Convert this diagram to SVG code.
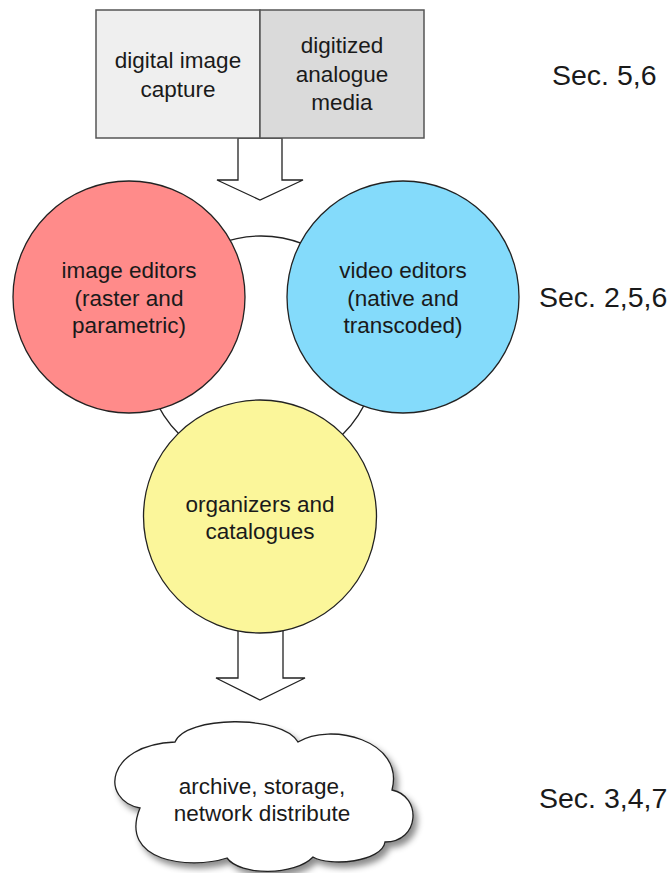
<svg xmlns="http://www.w3.org/2000/svg" width="671" height="873" viewBox="0 0 671 873">
  <style>
    text { font-family: "Liberation Sans", Arial, Helvetica, sans-serif; fill: #1a1a1a; text-anchor: middle; }
    .body { font-size: 22.5px; }
    .sec { font-size: 28.5px; text-anchor: start; }
    .box { stroke: #555; stroke-width: 1.5; }
    .circ { stroke: #222; stroke-width: 1.3; }
    .arrow { fill: #fff; stroke: #222; stroke-width: 1.3; stroke-linejoin: miter; }
    .ring { fill: none; stroke: #222; stroke-width: 1.3; }
  </style>
  <defs>
    <filter id="shadow" x="-10%" y="-10%" width="125%" height="130%">
      <feDropShadow dx="4" dy="5" stdDeviation="3" flood-color="#000" flood-opacity="0.45"/>
    </filter>
  </defs>
  <rect width="671" height="873" fill="#fff"/>

  <!-- connectors: the shared ring behind the editors, and the block arrows -->
  <g id="connectors">
    <circle class="ring" cx="261" cy="352" r="116"/>
    <polygon class="arrow" points="238,138 282,138 282,180 303,180 260,200 217,180 238,180"/>
    <polygon class="arrow" points="238,620 283,620 283,678 305,678 260,700 216,678 238,678"/>
  </g>

  <!-- sources -->
  <g id="capture">
    <rect class="box" x="96" y="10" width="164" height="128" fill="#efefef"/>
    <text class="body" x="178" y="68">digital image</text>
    <text class="body" x="178" y="97">capture</text>
  </g>
  <g id="analogue">
    <rect class="box" x="260" y="10" width="164" height="128" fill="#dadada"/>
    <text class="body" x="342" y="53">digitized</text>
    <text class="body" x="342" y="82">analogue</text>
    <text class="body" x="342" y="110">media</text>
  </g>

  <!-- editors -->
  <g id="image-editors">
    <circle class="circ" cx="129" cy="297" r="116" fill="#ff8b8a"/>
    <text class="body" x="129" y="278">image editors</text>
    <text class="body" x="129" y="306">(raster and</text>
    <text class="body" x="129" y="333">parametric)</text>
  </g>
  <g id="video-editors">
    <circle class="circ" cx="403" cy="297" r="116" fill="#84dbfb"/>
    <text class="body" x="403" y="278">video editors</text>
    <text class="body" x="403" y="306">(native and</text>
    <text class="body" x="403" y="333">transcoded)</text>
  </g>
  <g id="organizers">
    <circle class="circ" cx="260" cy="516.5" r="116.5" fill="#fbf69a"/>
    <text class="body" x="260" y="512">organizers and</text>
    <text class="body" x="260" y="539">catalogues</text>
  </g>

  <!-- output -->
  <g id="archive">
    <path class="circ" fill="#fff" filter="url(#shadow)"
      d="M 140,808
         C 100,800 105,745 175,742
         C 185,716 282,714 298,742
         C 330,722 405,740 392,790
         C 422,796 420,842 385,842
         C 382,862 330,867 313,857
         C 295,876 240,876 227,858
         C 190,870 118,862 140,808 Z"/>
    <text class="body" x="262" y="794">archive, storage,</text>
    <text class="body" x="262" y="821">network distribute</text>
  </g>

  <!-- section references -->
  <g id="sections">
    <text class="sec" x="552" y="85">Sec. 5,6</text>
    <text class="sec" x="539" y="307">Sec. 2,5,6</text>
    <text class="sec" x="539" y="808">Sec. 3,4,7</text>
  </g>
</svg>
